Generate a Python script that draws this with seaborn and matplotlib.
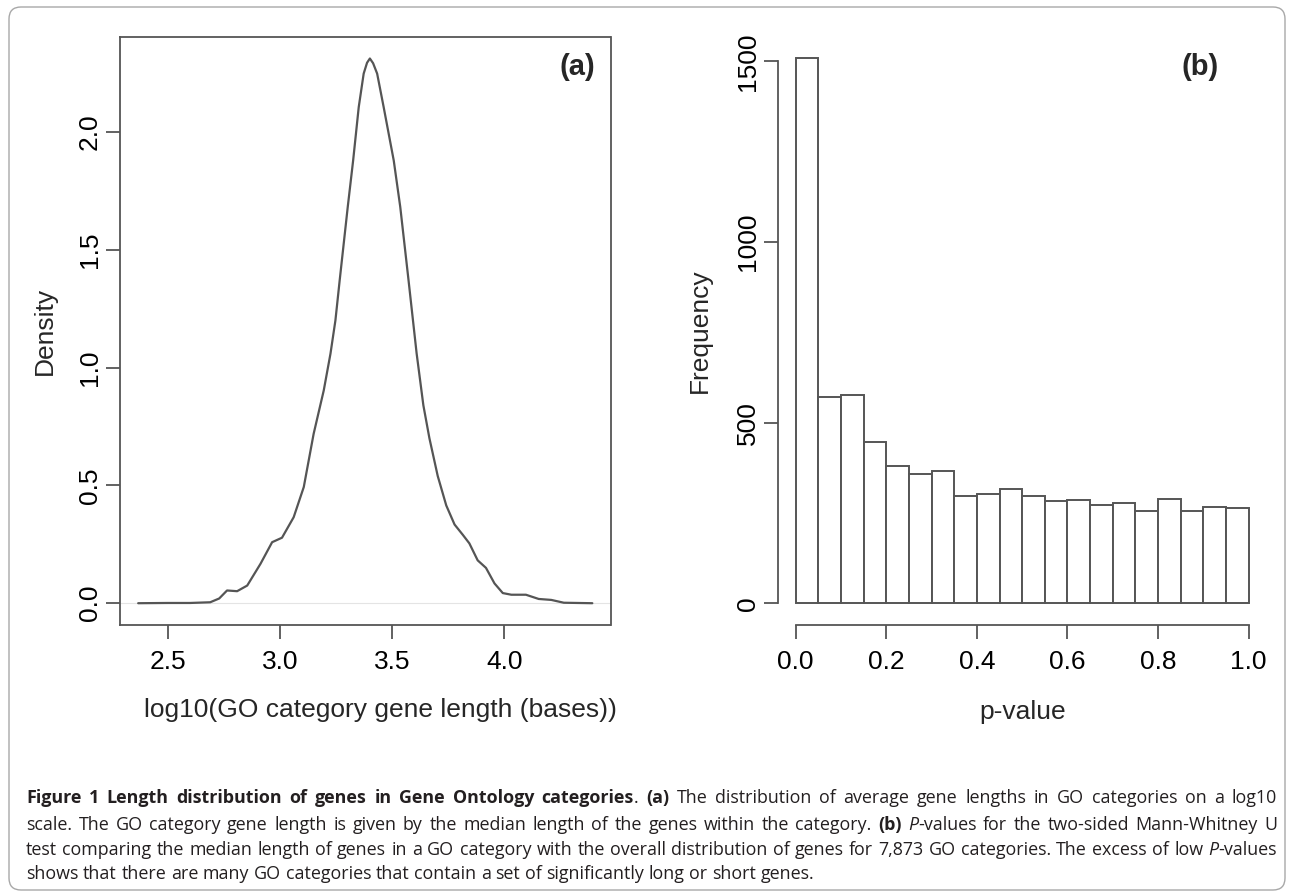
import numpy as np
import matplotlib
matplotlib.use("Agg")
import matplotlib.pyplot as plt
import seaborn as sns
from matplotlib.patches import FancyBboxPatch

# (a) density of log10 median gene length per GO category
log_len = [2.369, 2.50, 2.60, 2.69, 2.73, 2.765, 2.81, 2.855, 2.914, 2.966,
           3.010, 3.062, 3.107, 3.151, 3.196, 3.226, 3.248, 3.267, 3.303, 3.327,
           3.352, 3.374, 3.389, 3.4016, 3.416, 3.434, 3.463, 3.508, 3.537, 3.574,
           3.61, 3.64, 3.667, 3.704, 3.742, 3.779, 3.816, 3.845, 3.882, 3.919,
           3.957, 3.994, 4.032, 4.097, 4.154, 4.210, 4.266, 4.393]
density = [0.0, 0.001, 0.001, 0.004, 0.02, 0.054, 0.051, 0.075, 0.167, 0.259,
           0.278, 0.365, 0.493, 0.719, 0.903, 1.059, 1.200, 1.370, 1.682, 1.879,
           2.106, 2.248, 2.294, 2.312, 2.292, 2.248, 2.106, 1.879, 1.682, 1.370,
           1.06, 0.84, 0.70, 0.54, 0.415, 0.334, 0.29, 0.254, 0.182, 0.15,
           0.084, 0.043, 0.036, 0.036, 0.018, 0.014, 0.002, 0.0]

# (b) histogram of Mann-Whitney p-values, 20 bins of width 0.05
p_mid = [0.025, 0.075, 0.125, 0.175, 0.225, 0.275, 0.325, 0.375, 0.425, 0.475,
         0.525, 0.575, 0.625, 0.675, 0.725, 0.775, 0.825, 0.875, 0.925, 0.975]
p_counts = [1508, 571, 577, 446, 381, 358, 365, 296, 302, 317,
            297, 284, 286, 272, 276, 255, 289, 254, 267, 263]
p_edges = [0.0, 0.05, 0.1, 0.15, 0.2, 0.25, 0.3, 0.35, 0.4, 0.45, 0.5,
           0.55, 0.6, 0.65, 0.7, 0.75, 0.8, 0.85, 0.9, 0.95, 1.0]

xticks_a = [2.5, 3.0, 3.5, 4.0]
yticks_a = [0.0, 0.5, 1.0, 1.5, 2.0]
xticks_b = [0.0, 0.2, 0.4, 0.6, 0.8, 1.0]
yticks_b = [0, 500, 1000, 1500]

sns.set_style("white")
plt.rcParams['font.family'] = ['Liberation Sans', 'DejaVu Sans']

LINE = '#555555'
W, H = 1292, 892
fig = plt.figure(figsize=(W / 100, H / 100), dpi=100)

ax_a = fig.add_axes([120 / W, 1 - 625 / H, 490.5 / W, 588.4 / H])
ax_b = fig.add_axes([777.6 / W, 1 - 625 / H, 489.2 / W, 588.4 / H])

# ---- panel (a)
ax_a.axhline(0, color='#e4e4e4', lw=0.8, zorder=1)
sns.lineplot(x=log_len, y=density, ax=ax_a, color=LINE, lw=1.6,
             sort=False, estimator=None, zorder=2)
ax_a.set_xlim(2.288, 4.474)
ax_a.set_ylim(-0.0925, 2.405)
ax_a.set_xticks(xticks_a)
ax_a.set_xticklabels([f"{v:.1f}" for v in xticks_a])
ax_a.set_yticks(yticks_a)
ax_a.set_yticklabels([f"{v:.1f}" for v in yticks_a])
for sp in ax_a.spines.values():
    sp.set_visible(True)
    sp.set_color(LINE)
    sp.set_linewidth(1.3)
ax_a.set_xlabel("log10(GO category gene length (bases))")
ax_a.set_ylabel("Density")
ax_a.text(0.932, 0.948, "(a)", transform=ax_a.transAxes, ha='center', va='center',
          fontsize=21, fontweight='bold')

# ---- panel (b)
sns.histplot(x=p_mid, weights=p_counts, bins=p_edges, ax=ax_b, color='white',
             edgecolor=LINE, linewidth=1.4, alpha=1)
ax_b.set_xlim(-0.04, 1.04)
ax_b.set_ylim(-60.3, 1568.3)
ax_b.set_xticks(xticks_b)
ax_b.set_xticklabels([f"{v:.1f}" for v in xticks_b])
ax_b.set_yticks(yticks_b)
ax_b.set_yticklabels([str(v) for v in yticks_b])
for side in ['top', 'right']:
    ax_b.spines[side].set_visible(False)
for side in ['left', 'bottom']:
    ax_b.spines[side].set_visible(True)
    ax_b.spines[side].set_color(LINE)
    ax_b.spines[side].set_linewidth(1.3)
ax_b.spines['left'].set_bounds(0, 1500)
ax_b.spines['bottom'].set_bounds(0, 1)
ax_b.set_xlabel("p-value")
ax_b.set_ylabel("Frequency")
ax_b.text(0.8635, 0.948, "(b)", transform=ax_b.transAxes, ha='center', va='center',
          fontsize=21, fontweight='bold')

for ax, xc, xl, yl in [(ax_a, 0.53, -0.145, -0.153), (ax_b, 0.5, -0.148, -0.159)]:
    ax.tick_params(axis='both', direction='out', length=10, width=1.3, color=LINE,
                   labelsize=19, labelcolor='black', bottom=True, left=True)
    ax.tick_params(axis='x', pad=8)
    ax.tick_params(axis='y', pad=3, labelrotation=90)
    for lab in ax.get_yticklabels():
        lab.set_va('center')
    ax.xaxis.label.set_size(19)
    ax.yaxis.label.set_size(19)
    ax.xaxis.set_label_coords(xc, xl)
    ax.yaxis.set_label_coords(yl, 0.5)
    ax.xaxis.label.set_va('center')
    ax.yaxis.label.set_va('center')

# figure frame
fig.add_artist(FancyBboxPatch((9, 2), 1276, 883, boxstyle="round,pad=0,rounding_size=12",
                              transform=None, fill=False, ec='#a8a8a8', lw=1.0))

# ---- caption, justified word by word
cap_font = ['Open Sans', 'DejaVu Sans']
CAP_SIZE = 12.9
REG = dict(family=cap_font, size=CAP_SIZE, color='#231f20')
BOLD = dict(REG, weight='bold')
ITAL = dict(REG, style='italic')

caption = [
    ([("Figure 1 Length distribution of genes in Gene Ontology categories", BOLD),
      (". ", REG), ("(a)", BOLD),
      (" The distribution of average gene lengths in GO categories on a log10", REG)], True),
    ([("scale. The GO category gene length is given by the median length of the genes within the category. ", REG),
      ("(b)", BOLD), (" ", REG), ("P", ITAL), ("-values for the two-sided Mann-Whitney U", REG)], True),
    ([("test comparing the median length of genes in a GO category with the overall distribution of genes for 7,873 GO categories. The excess of low ", REG),
      ("P", ITAL), ("-values", REG)], True),
    ([("shows that there are many GO categories that contain a set of significantly long or short genes.", REG)], False),
]
baselines = [803, 830, 855, 879]
x_left, x_right = 26, 1277

renderer = fig.canvas.get_renderer()


def text_width(s, style):
    t = fig.text(0, 0, s, **style)
    w = t.get_window_extent(renderer).width
    t.remove()
    return w


space_w = text_width("n n", REG) - text_width("nn", REG)

for (segments, justify), yb in zip(caption, baselines):
    words, cur = [], []
    for txt, sty in segments:
        parts = txt.split(' ')
        for i, p in enumerate(parts):
            if i > 0 and cur:
                words.append(cur)
                cur = []
            if p:
                cur.append((p, sty))
    if cur:
        words.append(cur)
    widths = [[text_width(p, s) for p, s in w] for w in words]
    total = sum(sum(w) for w in widths)
    gap = (x_right - x_left - total) / (len(words) - 1) if justify else space_w
    x = x_left
    for w, ws in zip(words, widths):
        for (p, s), pw in zip(w, ws):
            fig.text(x / W, 1 - yb / H, p, ha='left', va='baseline', **s)
            x += pw
        x += gap

fig.savefig("out.png", dpi=100)
